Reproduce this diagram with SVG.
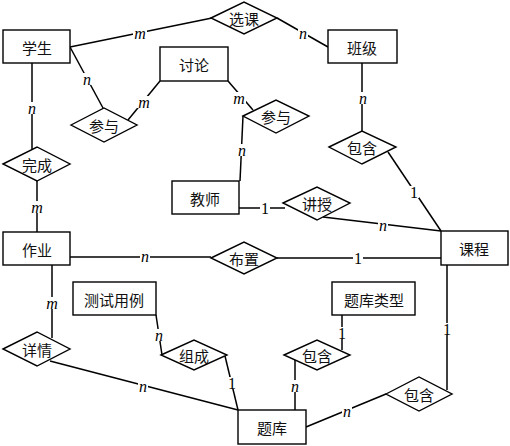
<svg xmlns="http://www.w3.org/2000/svg" width="510" height="446" viewBox="0 0 510 446">
<defs>
<rect id="bn" x="-5" y="-6" width="10" height="12" fill="#fff"/>
<rect id="bm" x="-7" y="-6" width="14" height="12" fill="#fff"/>
</defs>
<style>
.e{fill:#fff;stroke:#000;stroke-width:1.4}
.l{stroke:#000;stroke-width:1.5;fill:none}
.t{font-family:"Noto Sans CJK SC","Noto Sans CJK JP",sans-serif;font-size:15px;text-anchor:middle;dominant-baseline:central;fill:#111}
.c{font-family:"Liberation Serif",serif;font-size:16px;text-anchor:middle;dominant-baseline:central;fill:#000}
.i{font-style:italic}
</style>
<rect width="510" height="446" fill="#fff"/>
<g id="connectors">
<line class="l" x1="70" y1="47" x2="212" y2="18"/>
<line class="l" x1="277" y1="18" x2="328" y2="47"/>
<line class="l" x1="70" y1="47" x2="103" y2="108"/>
<line class="l" x1="160" y1="81" x2="128" y2="120"/>
<line class="l" x1="228" y1="81" x2="253" y2="110"/>
<line class="l" x1="243" y1="116" x2="240" y2="181"/>
<line class="l" x1="32" y1="63" x2="32" y2="152"/>
<line class="l" x1="37" y1="181" x2="37" y2="232"/>
<line class="l" x1="362" y1="63" x2="362" y2="131"/>
<line class="l" x1="388" y1="152" x2="441" y2="231"/>
<line class="l" x1="239" y1="208" x2="285" y2="208"/>
<line class="l" x1="323" y1="217" x2="441" y2="231"/>
<line class="l" x1="70" y1="257" x2="211" y2="257"/>
<line class="l" x1="277" y1="258" x2="441" y2="258"/>
<line class="l" x1="52" y1="265" x2="52" y2="338"/>
<line class="l" x1="50" y1="361" x2="238" y2="410"/>
<line class="l" x1="156" y1="315" x2="162" y2="355"/>
<line class="l" x1="225" y1="356" x2="238" y2="410"/>
<line class="l" x1="342" y1="315" x2="342" y2="350"/>
<line class="l" x1="295" y1="360" x2="295" y2="410"/>
<line class="l" x1="306" y1="427" x2="386" y2="394"/>
<line class="l" x1="447" y1="265" x2="447" y2="390"/>
<use href="#bm" x="140" y="33"/><text class="c i" x="140" y="33">m</text>
<use href="#bn" x="303" y="33"/><text class="c i" x="303" y="33">n</text>
<use href="#bn" x="87" y="79"/><text class="c i" x="87" y="79">n</text>
<use href="#bm" x="144" y="102"/><text class="c i" x="144" y="102">m</text>
<use href="#bm" x="239" y="98"/><text class="c i" x="239" y="98">m</text>
<use href="#bn" x="242" y="150"/><text class="c i" x="242" y="150">n</text>
<use href="#bn" x="32" y="108"/><text class="c i" x="32" y="108">n</text>
<use href="#bm" x="37" y="207"/><text class="c i" x="37" y="207">m</text>
<use href="#bn" x="363" y="98"/><text class="c i" x="363" y="98">n</text>
<use href="#bn" x="414" y="192"/><text class="c" x="414" y="192">1</text>
<use href="#bn" x="265" y="208"/><text class="c" x="265" y="208">1</text>
<use href="#bn" x="383" y="225"/><text class="c i" x="383" y="225">n</text>
<use href="#bn" x="145" y="256"/><text class="c i" x="145" y="256">n</text>
<use href="#bn" x="358" y="258"/><text class="c" x="358" y="258">1</text>
<use href="#bm" x="52" y="303"/><text class="c i" x="52" y="303">m</text>
<use href="#bn" x="143" y="386"/><text class="c i" x="143" y="386">n</text>
<use href="#bn" x="159" y="335"/><text class="c i" x="159" y="335">n</text>
<use href="#bn" x="232" y="383"/><text class="c" x="232" y="383">1</text>
<use href="#bn" x="342" y="333"/><text class="c" x="342" y="333">1</text>
<use href="#bn" x="295" y="386"/><text class="c i" x="295" y="386">n</text>
<use href="#bn" x="347" y="411"/><text class="c i" x="347" y="411">n</text>
<use href="#bn" x="447" y="329"/><text class="c" x="447" y="329">1</text>
</g>
<g id="xuesheng"><rect class="e" x="3" y="30" width="67" height="33"/><text class="t" x="37" y="47">学生</text></g>
<g id="taolun"><rect class="e" x="160" y="47" width="68" height="34"/><text class="t" x="194" y="64">讨论</text></g>
<g id="banji"><rect class="e" x="328" y="30" width="69" height="33"/><text class="t" x="362" y="47">班级</text></g>
<g id="jiaoshi"><rect class="e" x="172" y="181" width="67" height="33"/><text class="t" x="205" y="198">教师</text></g>
<g id="zuoye"><rect class="e" x="3" y="232" width="67" height="33"/><text class="t" x="37" y="249">作业</text></g>
<g id="kecheng"><rect class="e" x="441" y="231" width="67" height="34"/><text class="t" x="474" y="248">课程</text></g>
<g id="ceshiyongli"><rect class="e" x="73" y="282" width="83" height="33"/><text class="t" x="114" y="299">测试用例</text></g>
<g id="tikuleixing"><rect class="e" x="332" y="282" width="83" height="33"/><text class="t" x="374" y="299">题库类型</text></g>
<g id="tiku"><rect class="e" x="238" y="410" width="68" height="34"/><text class="t" x="272" y="427">题库</text></g>
<g id="xuanke"><polygon class="e" points="211,18 244,2 277,18 244,34"/><text class="t" x="244" y="18">选课</text></g>
<g id="canyu1"><polygon class="e" points="71,125 104,108 137,125 104,142"/><text class="t" x="104" y="125">参与</text></g>
<g id="canyu2"><polygon class="e" points="243,116 276,100 309,116 276,133"/><text class="t" x="276" y="116">参与</text></g>
<g id="wancheng"><polygon class="e" points="3,164 37,147 70,164 37,181"/><text class="t" x="37" y="164">完成</text></g>
<g id="baohan1"><polygon class="e" points="329,147 362,131 396,147 362,164"/><text class="t" x="362" y="147">包含</text></g>
<g id="jiangshou"><polygon class="e" points="283,203 317,187 350,203 317,220"/><text class="t" x="317" y="203">讲授</text></g>
<g id="buzhi"><polygon class="e" points="211,258 244,242 277,258 244,274"/><text class="t" x="244" y="258">布置</text></g>
<g id="xiangqing"><polygon class="e" points="3,349 37,332 70,349 37,366"/><text class="t" x="37" y="349">详情</text></g>
<g id="zucheng"><polygon class="e" points="161,355 194,340 227,355 194,370"/><text class="t" x="194" y="355">组成</text></g>
<g id="baohan2"><polygon class="e" points="284,355 317,340 350,355 317,370"/><text class="t" x="317" y="355">包含</text></g>
<g id="baohan3"><polygon class="e" points="386,394 419,377 452,394 419,411"/><text class="t" x="419" y="394">包含</text></g>
</svg>
